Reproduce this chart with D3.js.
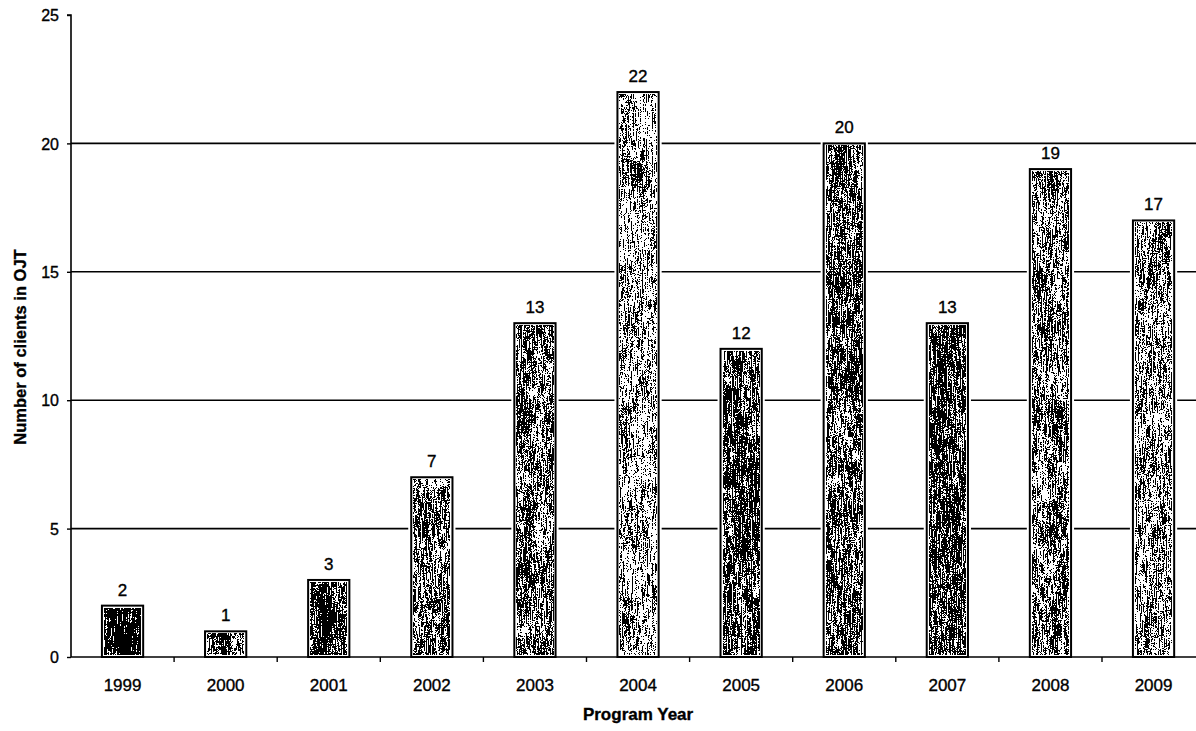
<!DOCTYPE html>
<html>
<head>
<meta charset="utf-8">
<script src="https://cdn.jsdelivr.net/npm/d3@7"></script>
<style>
  html, body { margin: 0; padding: 0; background: #fff; }
  svg { display: block; }
  text { font-family: Arial, "Liberation Sans", sans-serif; fill: #000; stroke: #000; stroke-width: 0.35px; }
</style>
</head>
<body>
<svg id="chart" width="1196" height="731"></svg>
<script>
// Clients placed in on-the-job training, by program year
const years = ["1999", "2000", "2001", "2002", "2003", "2004", "2005", "2006", "2007", "2008", "2009"];
const clients = [2, 1, 3, 7, 13, 22, 12, 20, 13, 19, 17];
const yTicks = [0, 5, 10, 15, 20, 25];

// grain threshold per bar (lower = darker print)
const grain = [0.41, 0.49, 0.46, 0.49, 0.49, 0.53, 0.47, 0.48, 0.46, 0.50, 0.51];

const W = 1196, H = 731;
const plotLeft = 71, plotTop = 15, plotBottom = 657;
const step = 103.1;

const svg = d3.select("#chart");

const x = d3.scaleBand()
  .domain(years)
  .range([plotLeft, plotLeft + years.length * step])
  .paddingInner(0.6)
  .paddingOuter(0.3);

const y = d3.scaleLinear().domain([0, 25]).range([plotBottom, plotTop]);

// speckled print texture filters
const defs = svg.append("defs");
years.forEach((yr, i) => {
  const t = grain[i];
  const f = defs.append("filter")
    .attr("id", "grain" + i)
    .attr("x", 0).attr("y", 0).attr("width", 1).attr("height", 1)
    .attr("color-interpolation-filters", "sRGB");
  f.append("feTurbulence")
    .attr("type", "fractalNoise")
    .attr("baseFrequency", "1.2 0.08")
    .attr("numOctaves", 1)
    .attr("seed", 7 + i * 13)
    .attr("result", "streak");
  f.append("feTurbulence")
    .attr("type", "fractalNoise")
    .attr("baseFrequency", "1.6 1.4")
    .attr("numOctaves", 1)
    .attr("seed", 3 + i * 5)
    .attr("result", "speck");
  f.append("feTurbulence")
    .attr("type", "fractalNoise")
    .attr("baseFrequency", "0.06 0.02")
    .attr("numOctaves", 2)
    .attr("seed", 11 + i * 3)
    .attr("result", "patch");
  f.append("feComposite")
    .attr("in", "streak").attr("in2", "speck")
    .attr("operator", "arithmetic")
    .attr("k1", 0).attr("k2", 0.55).attr("k3", 0.45).attr("k4", 0)
    .attr("result", "fine");
  f.append("feComposite")
    .attr("in", "fine").attr("in2", "patch")
    .attr("operator", "arithmetic")
    .attr("k1", 0).attr("k2", 0.86).attr("k3", 0.14).attr("k4", 0)
    .attr("result", "mix");
  f.append("feColorMatrix")
    .attr("in", "mix")
    .attr("type", "matrix")
    .attr("values", `0 0 0 0 0  0 0 0 0 0  0 0 0 0 0  6 0 0 0 ${0.5 - 6 * t}`)
    .attr("result", "a");
  const ct = f.append("feComponentTransfer").attr("in", "a");
  ct.append("feFuncA").attr("type", "discrete").attr("tableValues", "0 1");
});

// horizontal gridlines
svg.append("g")
  .selectAll("line")
  .data(yTicks.filter(v => v > 0 && v < 25))
  .join("line")
  .attr("x1", plotLeft).attr("x2", W)
  .attr("y1", d => y(d)).attr("y2", d => y(d))
  .attr("stroke", "#000").attr("stroke-width", 1.6);

// x baseline
svg.append("line")
  .attr("x1", plotLeft).attr("x2", W)
  .attr("y1", y(0)).attr("y2", y(0))
  .attr("stroke", "#000").attr("stroke-width", 1.6);

// category boundary ticks
svg.append("g")
  .selectAll("line")
  .data(d3.range(1, years.length))
  .join("line")
  .attr("x1", i => plotLeft + i * x.step()).attr("x2", i => plotLeft + i * x.step())
  .attr("y1", y(0)).attr("y2", y(0) + 5)
  .attr("stroke", "#000").attr("stroke-width", 1.4);

// y axis
const yAxis = d3.axisLeft(y).tickValues(yTicks).tickSize(4).tickPadding(8);
const gy = svg.append("g").attr("transform", `translate(${plotLeft},0)`).call(yAxis);
gy.select(".domain").attr("stroke-width", 1.6).attr("d", `M-4,${plotTop}H0V${plotBottom}`);
gy.selectAll(".tick line").attr("stroke-width", 1.4);
gy.selectAll(".tick text")
  .style("font-family", "Arial, 'Liberation Sans', sans-serif")
  .style("font-size", "16px")
  .attr("dy", "0.36em");

// bars
const bars = svg.append("g").selectAll("g")
  .data(years.map((yr, i) => ({ yr, v: clients[i], i })))
  .join("g");

bars.append("rect") // white halo that breaks the gridlines
  .attr("x", d => x(d.yr) - 3)
  .attr("y", d => y(d.v) - 3)
  .attr("width", x.bandwidth() + 6)
  .attr("height", d => y(0) - y(d.v) + 2)
  .attr("fill", "#fff");

bars.append("rect") // texture
  .attr("x", d => x(d.yr) + 2.5)
  .attr("y", d => y(d.v) + 2.5)
  .attr("width", x.bandwidth() - 5)
  .attr("height", d => Math.max(0, y(0) - y(d.v) - 5))
  .attr("fill", "#000")
  .attr("filter", d => `url(#grain${d.i})`);

bars.append("rect") // outline
  .attr("x", d => x(d.yr))
  .attr("y", d => y(d.v))
  .attr("width", x.bandwidth())
  .attr("height", d => y(0) - y(d.v))
  .attr("fill", "none")
  .attr("stroke", "#000")
  .attr("stroke-width", 2);

// value labels
bars.append("text")
  .attr("x", d => x(d.yr) + x.bandwidth() / 2)
  .attr("y", d => y(d.v) - 10)
  .attr("text-anchor", "middle")
  .style("font-size", "17px")
  .text(d => d.v);

// category labels
svg.append("g").selectAll("text")
  .data(years)
  .join("text")
  .attr("x", d => x(d) + x.bandwidth() / 2)
  .attr("y", 691)
  .attr("text-anchor", "middle")
  .style("font-size", "17px")
  .text(d => d);

// axis titles
svg.append("text")
  .attr("x", plotLeft + (years.length * step) / 2)
  .attr("y", 720)
  .attr("text-anchor", "middle")
  .style("font-size", "17px")
  .style("font-weight", "bold")
  .text("Program Year");

svg.append("text")
  .attr("transform", "translate(26,347) rotate(-90)")
  .attr("text-anchor", "middle")
  .style("font-size", "16.5px")
  .style("font-weight", "bold")
  .text("Number of clients in OJT");
</script>
</body>
</html>
